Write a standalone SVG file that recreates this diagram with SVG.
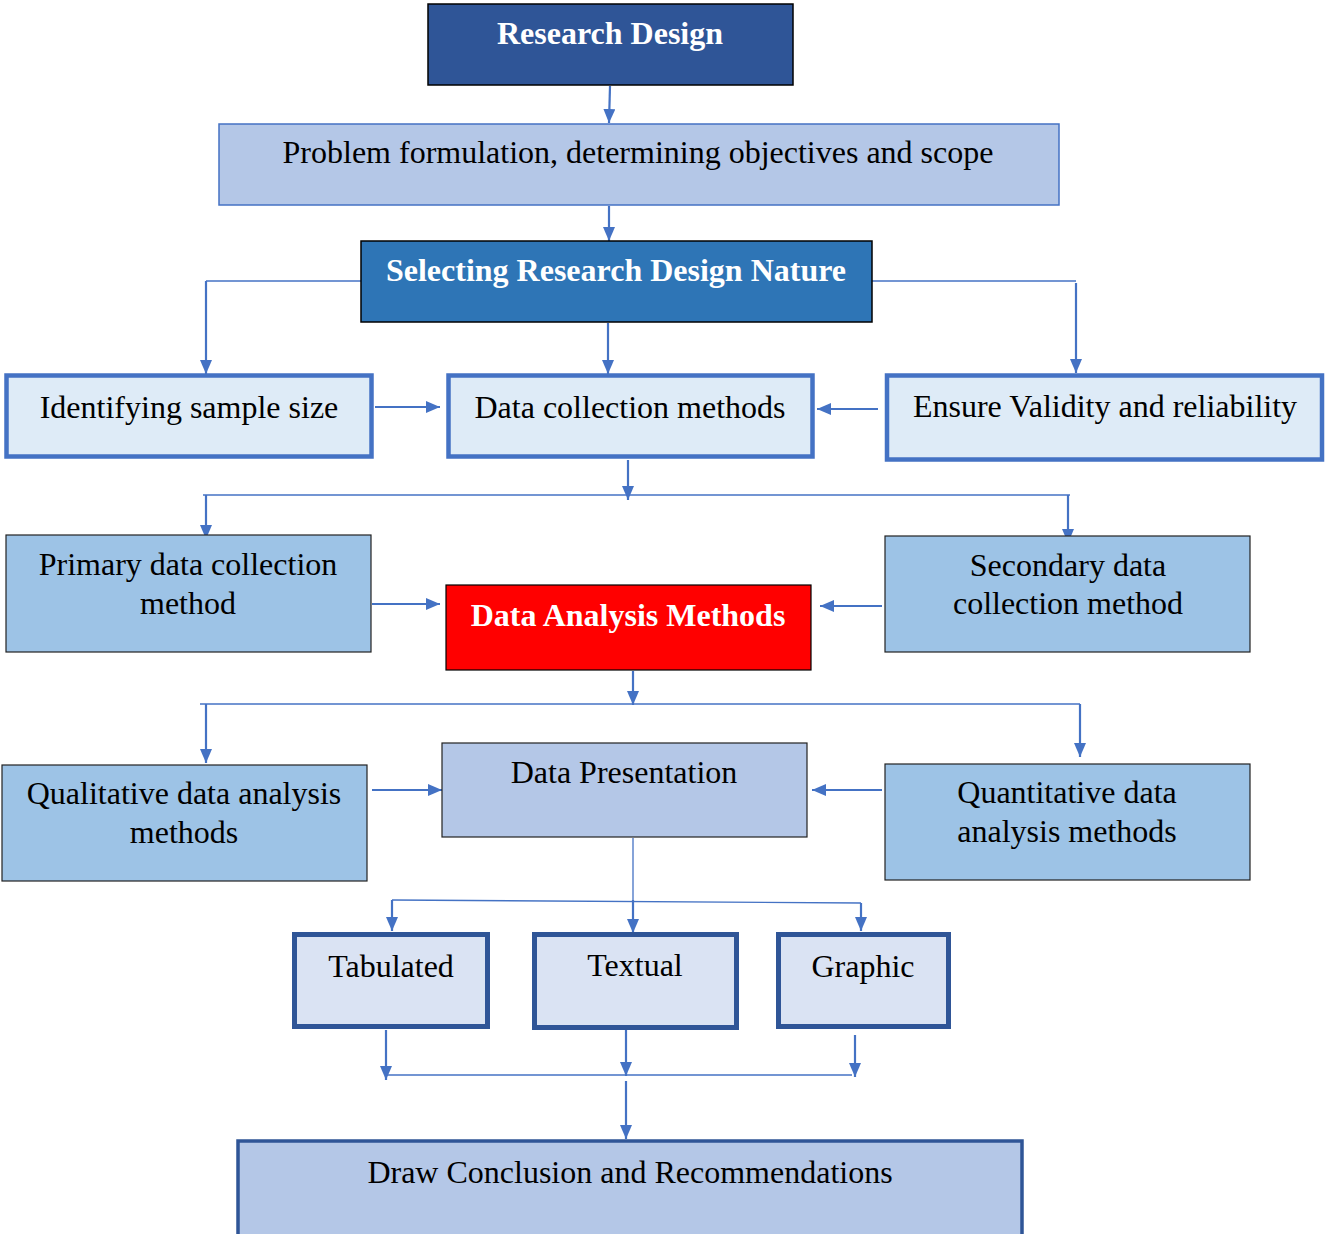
<svg xmlns="http://www.w3.org/2000/svg" width="1325" height="1234" viewBox="0 0 1325 1234">
  <defs>
    <marker id="arrow" viewBox="0 0 14 12" refX="14" refY="6" markerWidth="14" markerHeight="12" markerUnits="userSpaceOnUse" orient="auto">
      <path d="M0,0 L14,6 L0,12 Z" fill="#4472C4"/>
    </marker>
    <style>
      text { font-family: "Liberation Serif", "Times New Roman", serif; font-size: 32px; text-anchor: middle; fill: #000; }
      .bold { font-weight: bold; fill: #fff; }
      .dark { fill: #2F5597; stroke: #000; stroke-width: 1.5; }
      .mid { fill: #2E75B6; stroke: #000; stroke-width: 1.5; }
      .pale { fill: #B4C7E7; stroke: #4472C4; stroke-width: 1.5; }
      .paleb { fill: #B4C7E7; stroke: #222; stroke-width: 1.2; }
      .sky { fill: #9DC3E6; stroke: #222; stroke-width: 1.2; }
      .thick { fill: #DEEBF7; stroke: #4472C4; stroke-width: 4.5; }
      .navy { fill: #DAE3F3; stroke: #2F5597; stroke-width: 5; }
      .red { fill: #FF0000; stroke: #000; stroke-width: 1.2; }
      .end { fill: #B4C7E7; stroke: #2F5597; stroke-width: 3.5; }
      .conn path, .conn line { fill: none; stroke: #4472C4; }
      .arr { stroke-width: 2.2; marker-end: url(#arrow); }
      .thin { stroke-width: 1.3; }
    </style>
  </defs>

  <!-- connectors -->
  <g class="conn">
    <line class="arr" x1="610" y1="86" x2="609" y2="123"/>
    <line class="arr" x1="609" y1="206" x2="609" y2="241"/>
    <path class="thin" d="M361,281 H206"/>
    <line class="arr" x1="206" y1="281" x2="206" y2="374"/>
    <line class="arr" x1="608" y1="323" x2="608" y2="374"/>
    <path class="thin" d="M872,281 H1076"/>
    <line class="arr" x1="1076" y1="283" x2="1076" y2="373"/>
    <line class="arr" x1="375" y1="407" x2="440" y2="407"/>
    <line class="arr" x1="878" y1="409" x2="817" y2="409"/>
    <line class="arr" x1="628" y1="460" x2="628" y2="500"/>
    <path class="thin" d="M203,495 H1070"/>
    <line class="arr" x1="206" y1="495" x2="206" y2="539"/>
    <line class="arr" x1="1068" y1="495" x2="1068" y2="543"/>
    <line class="arr" x1="372" y1="604" x2="440" y2="604"/>
    <line class="arr" x1="882" y1="606" x2="820" y2="606"/>
    <line class="arr" x1="633" y1="671" x2="633" y2="705"/>
    <path class="thin" d="M200,704 H1080"/>
    <line class="arr" x1="206" y1="704" x2="206" y2="763"/>
    <line class="arr" x1="1080" y1="704" x2="1080" y2="757"/>
    <line class="arr" x1="372" y1="790" x2="442" y2="790"/>
    <line class="arr" x1="882" y1="790" x2="812" y2="790"/>
    <line class="thin" x1="633" y1="838" x2="633" y2="905"/>
    <path class="thin" d="M392,900 L861,903"/>
    <line class="arr" x1="633" y1="900" x2="633" y2="933"/>
    <line class="arr" x1="392" y1="900" x2="392" y2="931"/>
    <line class="arr" x1="861" y1="903" x2="861" y2="931"/>
    <line class="arr" x1="386" y1="1030" x2="386" y2="1080"/>
    <line class="arr" x1="626" y1="1030" x2="626" y2="1076"/>
    <line class="arr" x1="855" y1="1035" x2="855" y2="1077"/>
    <path class="thin" d="M386,1075 H852"/>
    <line class="arr" x1="626" y1="1081" x2="626" y2="1139"/>
  </g>

  <!-- nodes -->
  <g id="research-design">
    <rect class="dark" x="428" y="4" width="365" height="81"/>
    <text class="bold" x="610" y="44">Research Design</text>
  </g>
  <g id="problem-formulation">
    <rect class="pale" x="219" y="124" width="840" height="81"/>
    <text x="638" y="163">Problem formulation, determining objectives and scope</text>
  </g>
  <g id="design-nature">
    <rect class="mid" x="361" y="241" width="511" height="81"/>
    <text class="bold" x="616" y="281">Selecting Research Design Nature</text>
  </g>
  <g id="sample-size">
    <rect class="thick" x="6.5" y="375.5" width="365" height="81"/>
    <text x="189" y="418">Identifying sample size</text>
  </g>
  <g id="data-collection">
    <rect class="thick" x="448.5" y="375.5" width="364" height="81"/>
    <text x="630" y="418">Data collection methods</text>
  </g>
  <g id="validity">
    <rect class="thick" x="887" y="375.5" width="435" height="84"/>
    <text x="1105" y="417">Ensure Validity and reliability</text>
  </g>
  <g id="primary">
    <rect class="sky" x="6" y="535" width="365" height="117"/>
    <text x="188" y="575">Primary data collection</text>
    <text x="188" y="614">method</text>
  </g>
  <g id="analysis-methods">
    <rect class="red" x="446" y="585" width="365" height="85"/>
    <text class="bold" x="628" y="626">Data Analysis Methods</text>
  </g>
  <g id="secondary">
    <rect class="sky" x="885" y="536" width="365" height="116"/>
    <text x="1068" y="576">Secondary data</text>
    <text x="1068" y="614">collection method</text>
  </g>
  <g id="qualitative">
    <rect class="sky" x="2" y="765" width="365" height="116"/>
    <text x="184" y="804">Qualitative data analysis</text>
    <text x="184" y="843">methods</text>
  </g>
  <g id="presentation">
    <rect class="paleb" x="442" y="743" width="365" height="94"/>
    <text x="624" y="783">Data Presentation</text>
  </g>
  <g id="quantitative">
    <rect class="sky" x="885" y="764" width="365" height="116"/>
    <text x="1067" y="803">Quantitative data</text>
    <text x="1067" y="842">analysis methods</text>
  </g>
  <g id="tabulated">
    <rect class="navy" x="294.5" y="934.5" width="193" height="92"/>
    <text x="391" y="977">Tabulated</text>
  </g>
  <g id="textual">
    <rect class="navy" x="534.5" y="934.5" width="202" height="93"/>
    <text x="635" y="976">Textual</text>
  </g>
  <g id="graphic">
    <rect class="navy" x="778.5" y="934.5" width="170" height="92"/>
    <text x="863" y="977">Graphic</text>
  </g>
  <g id="conclusion">
    <rect class="end" x="238" y="1141" width="784" height="96"/>
    <text x="630" y="1183">Draw Conclusion and Recommendations</text>
  </g>
</svg>
